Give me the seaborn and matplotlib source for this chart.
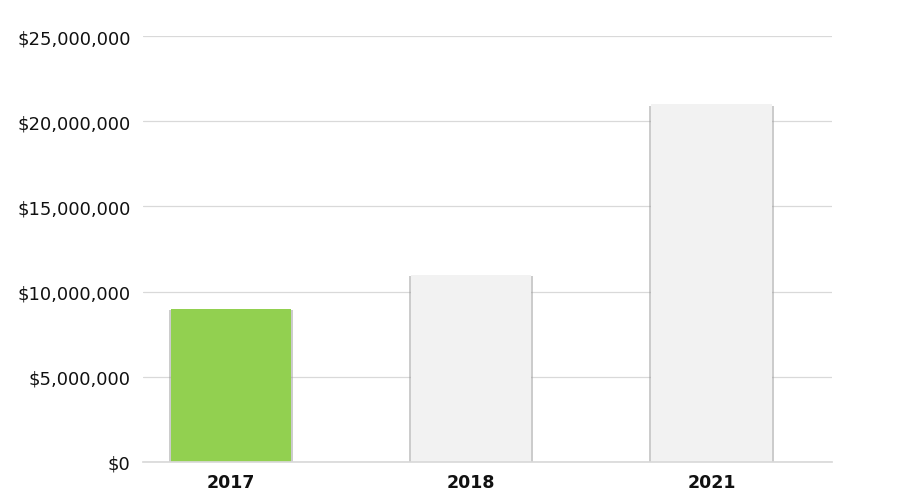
import matplotlib
matplotlib.use("Agg")
import matplotlib.pyplot as plt
import matplotlib.patheffects as pe
from matplotlib.ticker import FuncFormatter
import seaborn as sns
import pandas as pd

years = ["2017", "2018", "2021"]
amounts = [9000000, 11000000, 21000000]
bar_colors = ["#92d050", "#f2f2f2", "#f2f2f2"]

df = pd.DataFrame({"year": years, "amount": amounts})

sns.set_theme(style="white")
plt.rcParams["font.family"] = ["DejaVu Sans"]

fig = plt.figure(figsize=(9, 5.02), dpi=100)
ax = fig.add_axes([0.159, 0.0777, 0.765, 0.8483])

sns.barplot(data=df, x="year", y="amount", hue="year", palette=bar_colors,
            width=0.5, legend=False, ax=ax, saturation=1)

# soft grey shadow on the bar sides
for bar in ax.patches:
    bar.set_edgecolor("none")
    bar.set_path_effects([
        pe.SimplePatchShadow(offset=(1.5, -1), shadow_rgbFace="#9a9a9a", alpha=0.5),
        pe.SimplePatchShadow(offset=(-1.5, -1), shadow_rgbFace="#9a9a9a", alpha=0.5),
        pe.Normal(),
    ])

ax.set_ylim(0, 25000000)
ax.set_xlim(-0.366, 2.5)
ax.set_yticks(range(0, 25000001, 5000000))
ax.yaxis.set_major_formatter(FuncFormatter(lambda v, p: f"${int(v):,}"))
ax.grid(axis="y", color="#d9d9d9", linewidth=0.9)
ax.set_axisbelow(True)
for s in ["top", "right", "left"]:
    ax.spines[s].set_visible(False)
ax.spines["bottom"].set_color("#d9d9d9")
ax.tick_params(axis="y", labelsize=13, colors="#111111", length=0, pad=9)
ax.tick_params(axis="x", labelsize=12.5, length=0, pad=8)
for t in ax.get_xticklabels():
    t.set_fontweight("bold")
    t.set_color("#111111")
ax.set_xlabel("")
ax.set_ylabel("")

fig.savefig("out.png", dpi=100, facecolor="white")
